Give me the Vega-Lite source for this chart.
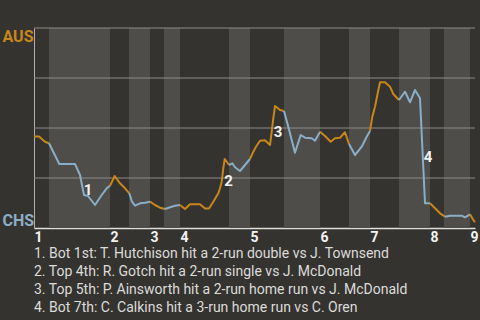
{
  "$schema": "https://vega.github.io/schema/vega-lite/v6.json",
  "autosize": "none",
  "width": 441,
  "height": 200,
  "padding": {"left": 34, "top": 28, "right": 5, "bottom": 92},
  "background": "#35332f",
  "config": {
    "view": {"stroke": null},
    "font": "Roboto"
  },
  "title": {
    "text": [
      "1. Bot 1st: T. Hutchison hit a 2-run double vs J. Townsend",
      "2. Top 4th: R. Gotch hit a 2-run single vs J. McDonald",
      "3. Top 5th: P. Ainsworth hit a 2-run home run vs J. McDonald",
      "4. Bot 7th: C. Calkins hit a 3-run home run vs C. Oren"
    ],
    "orient": "bottom",
    "anchor": "start",
    "frame": "group",
    "baseline": "top",
    "offset": 3,
    "font": "Roboto",
    "fontSize": 14,
    "fontWeight": "normal",
    "color": "#dcdcda",
    "lineHeight": 18
  },
  "datasets": {
    "bands": [
      {"start": 15, "end": 76},
      {"start": 95, "end": 116},
      {"start": 130, "end": 146},
      {"start": 195, "end": 216},
      {"start": 250, "end": 286},
      {"start": 315, "end": 336},
      {"start": 365, "end": 396},
      {"start": 410, "end": 436}
    ],
    "grid": [{"g": 0.25}, {"g": 0.5}, {"g": 0.75}, {"g": 1}],
    "wp": [
      {"play": 0, "wp": 0.4575, "half": "T1", "team": "AUS"},
      {"play": 5, "wp": 0.4575, "half": "T1", "team": "AUS"},
      {"play": 11, "wp": 0.4315, "half": "T1", "team": "AUS"},
      {"play": 15, "wp": 0.4235, "half": "T1", "team": "AUS"},

      {"play": 15, "wp": 0.4235, "half": "B1", "team": "CHS"},
      {"play": 25.3, "wp": 0.32, "half": "B1", "team": "CHS"},
      {"play": 41, "wp": 0.32, "half": "B1", "team": "CHS"},
      {"play": 43, "wp": 0.2985, "half": "B1", "team": "CHS"},
      {"play": 46, "wp": 0.265, "half": "B1", "team": "CHS"},
      {"play": 48, "wp": 0.215, "half": "B1", "team": "CHS"},
      {"play": 50, "wp": 0.165, "half": "B1", "team": "CHS"},
      {"play": 54, "wp": 0.16, "half": "B1", "team": "CHS"},
      {"play": 61, "wp": 0.115, "half": "B1", "team": "CHS"},
      {"play": 67.7, "wp": 0.165, "half": "B1", "team": "CHS"},
      {"play": 72.7, "wp": 0.1985, "half": "B1", "team": "CHS"},
      {"play": 76, "wp": 0.2115, "half": "B1", "team": "CHS"},

      {"play": 76, "wp": 0.2115, "half": "T2", "team": "AUS"},
      {"play": 80.7, "wp": 0.26, "half": "T2", "team": "AUS"},
      {"play": 86, "wp": 0.2235, "half": "T2", "team": "AUS"},
      {"play": 91, "wp": 0.1985, "half": "T2", "team": "AUS"},
      {"play": 95.3, "wp": 0.1735, "half": "T2", "team": "AUS"},

      {"play": 95.3, "wp": 0.1735, "half": "B2", "team": "CHS"},
      {"play": 98, "wp": 0.1315, "half": "B2", "team": "CHS"},
      {"play": 101, "wp": 0.1115, "half": "B2", "team": "CHS"},
      {"play": 106, "wp": 0.1235, "half": "B2", "team": "CHS"},
      {"play": 111, "wp": 0.1265, "half": "B2", "team": "CHS"},
      {"play": 116, "wp": 0.1315, "half": "B2", "team": "CHS"},

      {"play": 116, "wp": 0.1315, "half": "T3", "team": "AUS"},
      {"play": 121, "wp": 0.115, "half": "T3", "team": "AUS"},
      {"play": 126, "wp": 0.1015, "half": "T3", "team": "AUS"},
      {"play": 131, "wp": 0.095, "half": "T3", "team": "AUS"},

      {"play": 131, "wp": 0.095, "half": "B3", "team": "CHS"},
      {"play": 136, "wp": 0.1035, "half": "B3", "team": "CHS"},
      {"play": 141, "wp": 0.1115, "half": "B3", "team": "CHS"},
      {"play": 146, "wp": 0.115, "half": "B3", "team": "CHS"},

      {"play": 146, "wp": 0.115, "half": "T4", "team": "AUS"},
      {"play": 151, "wp": 0.095, "half": "T4", "team": "AUS"},
      {"play": 156, "wp": 0.1185, "half": "T4", "team": "AUS"},
      {"play": 166, "wp": 0.1185, "half": "T4", "team": "AUS"},
      {"play": 171, "wp": 0.0975, "half": "T4", "team": "AUS"},
      {"play": 175, "wp": 0.0975, "half": "T4", "team": "AUS"},
      {"play": 179.3, "wp": 0.1315, "half": "T4", "team": "AUS"},
      {"play": 184.3, "wp": 0.1735, "half": "T4", "team": "AUS"},
      {"play": 186, "wp": 0.1985, "half": "T4", "team": "AUS"},
      {"play": 187.7, "wp": 0.2315, "half": "T4", "team": "AUS"},
      {"play": 189.3, "wp": 0.2985, "half": "T4", "team": "AUS"},
      {"play": 190.7, "wp": 0.345, "half": "T4", "team": "AUS"},
      {"play": 192.7, "wp": 0.3315, "half": "T4", "team": "AUS"},
      {"play": 195, "wp": 0.315, "half": "T4", "team": "AUS"},

      {"play": 195, "wp": 0.315, "half": "B4", "team": "CHS"},
      {"play": 198.3, "wp": 0.3235, "half": "B4", "team": "CHS"},
      {"play": 201, "wp": 0.3035, "half": "B4", "team": "CHS"},
      {"play": 206, "wp": 0.285, "half": "B4", "team": "CHS"},
      {"play": 211, "wp": 0.315, "half": "B4", "team": "CHS"},
      {"play": 216, "wp": 0.345, "half": "B4", "team": "CHS"},

      {"play": 216, "wp": 0.345, "half": "T5", "team": "AUS"},
      {"play": 219.3, "wp": 0.3815, "half": "T5", "team": "AUS"},
      {"play": 222, "wp": 0.4065, "half": "T5", "team": "AUS"},
      {"play": 226, "wp": 0.4365, "half": "T5", "team": "AUS"},
      {"play": 231, "wp": 0.4385, "half": "T5", "team": "AUS"},
      {"play": 236, "wp": 0.415, "half": "T5", "team": "AUS"},
      {"play": 237.7, "wp": 0.4815, "half": "T5", "team": "AUS"},
      {"play": 239.3, "wp": 0.5485, "half": "T5", "team": "AUS"},
      {"play": 241, "wp": 0.61, "half": "T5", "team": "AUS"},
      {"play": 243.3, "wp": 0.6015, "half": "T5", "team": "AUS"},
      {"play": 246, "wp": 0.59, "half": "T5", "team": "AUS"},
      {"play": 250, "wp": 0.585, "half": "T5", "team": "AUS"},

      {"play": 250, "wp": 0.585, "half": "B5", "team": "CHS"},
      {"play": 254.3, "wp": 0.5065, "half": "B5", "team": "CHS"},
      {"play": 257.7, "wp": 0.44, "half": "B5", "team": "CHS"},
      {"play": 261, "wp": 0.3765, "half": "B5", "team": "CHS"},
      {"play": 266.7, "wp": 0.465, "half": "B5", "team": "CHS"},
      {"play": 271, "wp": 0.4515, "half": "B5", "team": "CHS"},
      {"play": 277.7, "wp": 0.4485, "half": "B5", "team": "CHS"},
      {"play": 281, "wp": 0.4365, "half": "B5", "team": "CHS"},
      {"play": 286, "wp": 0.4815, "half": "B5", "team": "CHS"},

      {"play": 286, "wp": 0.4815, "half": "T6", "team": "AUS"},
      {"play": 291, "wp": 0.46, "half": "T6", "team": "AUS"},
      {"play": 296.7, "wp": 0.4315, "half": "T6", "team": "AUS"},
      {"play": 301, "wp": 0.4485, "half": "T6", "team": "AUS"},
      {"play": 306, "wp": 0.4515, "half": "T6", "team": "AUS"},
      {"play": 311, "wp": 0.4785, "half": "T6", "team": "AUS"},
      {"play": 315, "wp": 0.42, "half": "T6", "team": "AUS"},

      {"play": 315, "wp": 0.42, "half": "B6", "team": "CHS"},
      {"play": 321, "wp": 0.365, "half": "B6", "team": "CHS"},
      {"play": 327.7, "wp": 0.4065, "half": "B6", "team": "CHS"},
      {"play": 332.7, "wp": 0.4565, "half": "B6", "team": "CHS"},
      {"play": 336, "wp": 0.485, "half": "B6", "team": "CHS"},

      {"play": 336, "wp": 0.485, "half": "T7", "team": "AUS"},
      {"play": 338.3, "wp": 0.5565, "half": "T7", "team": "AUS"},
      {"play": 341, "wp": 0.6065, "half": "T7", "team": "AUS"},
      {"play": 343.7, "wp": 0.6735, "half": "T7", "team": "AUS"},
      {"play": 346, "wp": 0.7285, "half": "T7", "team": "AUS"},
      {"play": 351, "wp": 0.7285, "half": "T7", "team": "AUS"},
      {"play": 356, "wp": 0.7065, "half": "T7", "team": "AUS"},
      {"play": 359.3, "wp": 0.67, "half": "T7", "team": "AUS"},
      {"play": 365, "wp": 0.64, "half": "T7", "team": "AUS"},

      {"play": 365, "wp": 0.64, "half": "B7", "team": "CHS"},
      {"play": 371, "wp": 0.6815, "half": "B7", "team": "CHS"},
      {"play": 376, "wp": 0.6285, "half": "B7", "team": "CHS"},
      {"play": 381, "wp": 0.69, "half": "B7", "team": "CHS"},
      {"play": 386, "wp": 0.6485, "half": "B7", "team": "CHS"},
      {"play": 391, "wp": 0.1235, "half": "B7", "team": "CHS"},
      {"play": 396, "wp": 0.1235, "half": "B7", "team": "CHS"},

      {"play": 396, "wp": 0.1235, "half": "T8", "team": "AUS"},
      {"play": 401, "wp": 0.0985, "half": "T8", "team": "AUS"},
      {"play": 406, "wp": 0.0735, "half": "T8", "team": "AUS"},
      {"play": 411, "wp": 0.0565, "half": "T8", "team": "AUS"},

      {"play": 411, "wp": 0.0565, "half": "B8", "team": "CHS"},
      {"play": 416, "wp": 0.0615, "half": "B8", "team": "CHS"},
      {"play": 427.7, "wp": 0.0615, "half": "B8", "team": "CHS"},
      {"play": 431, "wp": 0.0535, "half": "B8", "team": "CHS"},
      {"play": 436, "wp": 0.0685, "half": "B8", "team": "CHS"},

      {"play": 436, "wp": 0.0685, "half": "T9", "team": "AUS"},
      {"play": 438.7, "wp": 0.045, "half": "T9", "team": "AUS"},
      {"play": 441, "wp": 0.0285, "half": "T9", "team": "AUS"}
    ],
    "notes": [
      {"play": 54, "wp": 0.19, "label": "1"},
      {"play": 194.5, "wp": 0.235, "label": "2"},
      {"play": 244, "wp": 0.48, "label": "3"},
      {"play": 394, "wp": 0.3575, "label": "4"}
    ]
  },
  "layer": [
    {
      "data": {"name": "bands"},
      "mark": {"type": "rect", "color": "#4e4d4a"},
      "encoding": {
        "x": {
          "field": "start",
          "type": "quantitative",
          "scale": {"domain": [0, 441], "nice": false, "zero": false},
          "axis": {
            "values": [0, 76, 116, 146, 216, 286, 336, 396, 436],
            "labelExpr": "indexof([0, 76, 116, 146, 216, 286, 336, 396, 436], datum.value) + 1",
            "title": null,
            "grid": false,
            "ticks": false,
            "domainColor": "#dddddc",
            "domainWidth": 1.5,
            "labelAlign": "left",
            "labelBaseline": "top",
            "labelPadding": 2,
            "labelFont": "Roboto",
            "labelFontSize": 14,
            "labelFontWeight": "bold",
            "labelColor": "#f2f2f2",
            "labelFlush": false,
            "labelOverlap": false
          }
        },
        "x2": {"field": "end"}
      }
    },
    {
      "data": {"name": "grid"},
      "mark": {"type": "rule", "color": "#8c8b87", "strokeWidth": 1},
      "encoding": {
        "y": {
          "field": "g",
          "type": "quantitative",
          "scale": {"domain": [0, 1], "nice": false},
          "axis": {
            "values": [0, 1],
            "labelExpr": "datum.value == 1 ? 'AUS' : 'CHS'",
            "title": null,
            "grid": false,
            "ticks": false,
            "domainColor": "#b0b0ae",
            "labelFlush": true,
            "labelAlign": "left",
            "labelPadding": 32,
            "labelFont": "Roboto",
            "labelFontSize": 16,
            "labelFontWeight": "bold",
            "labelColor": {"condition": {"test": "datum.value == 1", "value": "#c8861b"}, "value": "#8aaec6"}
          }
        }
      }
    },
    {
      "data": {"name": "wp"},
      "mark": {"type": "line", "strokeWidth": 2, "strokeJoin": "round"},
      "encoding": {
        "x": {"field": "play", "type": "quantitative"},
        "y": {"field": "wp", "type": "quantitative"},
        "detail": {"field": "half"},
        "order": {"field": "play"},
        "color": {
          "field": "team",
          "type": "nominal",
          "scale": {"domain": ["AUS", "CHS"], "range": ["#c8861b", "#8aaec6"]},
          "legend": null
        }
      }
    },
    {
      "data": {"name": "notes"},
      "mark": {"type": "text", "font": "Roboto", "fontSize": 15, "fontWeight": "bold", "color": "#f2f2f2", "baseline": "middle", "align": "center"},
      "encoding": {
        "x": {"field": "play", "type": "quantitative"},
        "y": {"field": "wp", "type": "quantitative"},
        "text": {"field": "label"}
      }
    }
  ]
}
